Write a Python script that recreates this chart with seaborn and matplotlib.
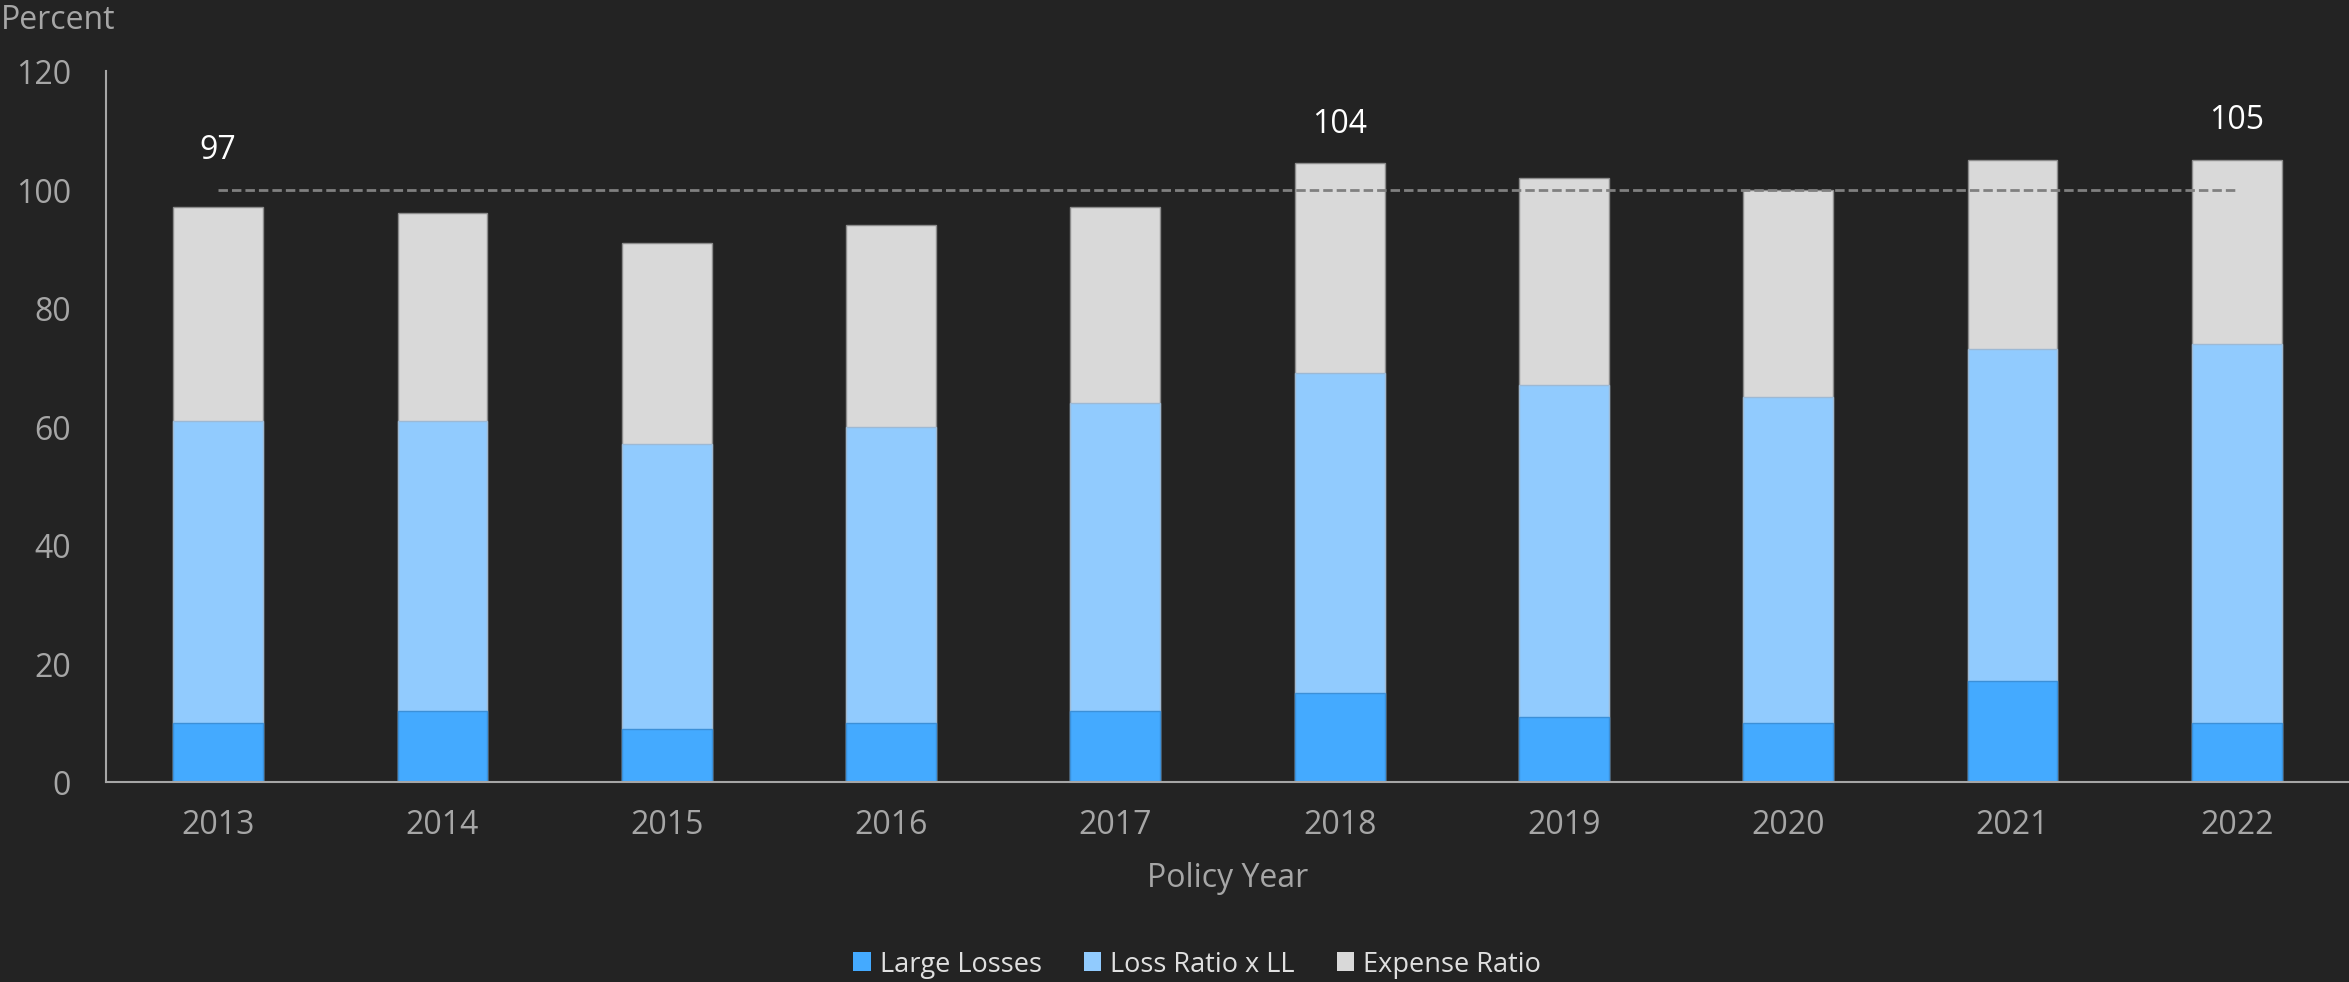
import numpy as np
import pandas as pd
import matplotlib
matplotlib.use("Agg")
import matplotlib.pyplot as plt
import seaborn as sns

# Combined ratio components by policy year (percent)
years = ["2013", "2014", "2015", "2016", "2017", "2018", "2019", "2020", "2021", "2022"]
large_losses = [10, 12, 9, 10, 12, 15, 11, 10, 17, 10]
loss_ratio_x_ll = [51, 49, 48, 50, 52, 54, 56, 55, 56, 64]
expense_ratio = [36, 35, 34, 34, 33, 35.4, 35, 35, 32, 31]
labelled_years = ["2013", "2018", "2022"]
target_level = 100
y_ticks = [0, 20, 40, 60, 80, 100, 120]

BG = "#232323"
C_LARGE = "#44AAFF"
C_LOSS = "#91CBFE"
C_EXP = "#D9D9D9"
TXT = "#A6A6A6"

sns.set_theme(style="dark")
plt.rcParams["font.family"] = ["Open Sans", "DejaVu Sans"]

df = pd.DataFrame({
    "year": years,
    "large": large_losses,
    "loss": loss_ratio_x_ll,
    "expense": expense_ratio,
})
df["cum_loss"] = df["large"] + df["loss"]
df["total"] = df["cum_loss"] + df["expense"]

fig = plt.figure(figsize=(23.49, 9.8299), dpi=100, facecolor=BG)
ax = fig.add_axes([106 / 2349, 1 - 783 / 983, 1 - 106 / 2349, (783 - 72) / 983])
ax.set_facecolor(BG)

# Stacked bars drawn as overlapping cumulative layers
sns.barplot(data=df, x="year", y="total", order=years, color=C_EXP, width=0.4,
            saturation=1, edgecolor="#8C8C8C", linewidth=1.0, ax=ax,
            label="Expense Ratio")
sns.barplot(data=df, x="year", y="cum_loss", order=years, color=C_LOSS, width=0.4,
            saturation=1, edgecolor="#9DB9D4", linewidth=1.0, ax=ax,
            label="Loss Ratio x LL")
sns.barplot(data=df, x="year", y="large", order=years, color=C_LARGE, width=0.4,
            saturation=1, edgecolor="#3C90D8", linewidth=1.0, ax=ax,
            label="Large Losses")

# Break-even reference line
xpos = np.arange(len(years))
ax.plot([xpos[0], xpos[-1]], [target_level, target_level], color="#808080",
        linewidth=2.0, linestyle=(0, (3.4, 1.45)), zorder=3)

# Totals above selected years
for i, yr in enumerate(years):
    if yr in labelled_years:
        tot = df["total"].iloc[i]
        ax.text(i, max(tot, target_level) + 5.3, f"{tot:.0f}", ha="center",
                va="baseline", color="white", fontsize=23)

ax.set_ylim(0, 120)
ax.set_xlim(-0.5, len(years) - 0.5)
ax.set_yticks(y_ticks)
ax.grid(False)
ax.tick_params(axis="y", length=0, pad=25.2, labelsize=23, labelcolor=TXT)
ax.tick_params(axis="x", length=0, pad=18.4, labelsize=23, labelcolor=TXT)
ax.set_ylabel("")
ax.set_xlabel("Policy Year", fontsize=23, color=TXT, labelpad=15)

for side in ["top", "right"]:
    ax.spines[side].set_visible(False)
for side in ["left", "bottom"]:
    ax.spines[side].set_visible(True)
    ax.spines[side].set_color("#A6A6A6")
    ax.spines[side].set_linewidth(1.5)

fig.text(1 / 2349, 1 - 29 / 983, "Percent", ha="left", va="baseline",
         fontsize=23, color=TXT)

handles, labels = ax.get_legend_handles_labels()
lookup = dict(zip(labels, handles))
order = ["Large Losses", "Loss Ratio x LL", "Expense Ratio"]
leg = fig.legend([lookup[k] for k in order], order, loc="center",
                 bbox_to_anchor=(1197 / 2349, 1 - 965 / 983), ncol=3,
                 frameon=False, fontsize=19.5, handlelength=0.65,
                 handleheight=0.65, handletextpad=0.33, columnspacing=1.55,
                 labelcolor="#E0E0E0")
for h in leg.legend_handles:
    h.set_edgecolor("none")
if ax.legend_ is not None:
    ax.legend_.remove()

fig.savefig("out.png", dpi=100, facecolor=BG)
